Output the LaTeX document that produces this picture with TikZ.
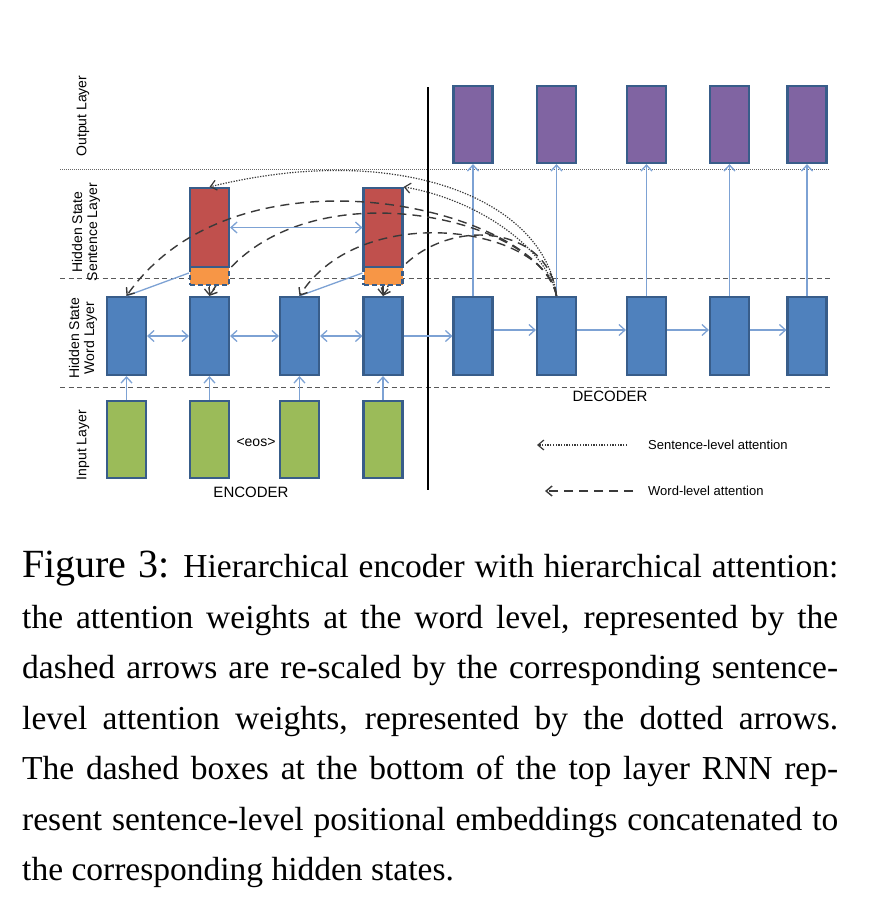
\documentclass[tikz,border=0pt]{standalone}
\usepackage{fontspec}
\setmainfont{Liberation Serif}
\newfontfamily\lsans{Liberation Sans}
\usetikzlibrary{arrows.meta}
\definecolor{bfill}{HTML}{4F81BD}
\definecolor{bdraw}{HTML}{385D8A}
\definecolor{rfill}{HTML}{C0504D}
\definecolor{pfill}{HTML}{8064A2}
\definecolor{gfill}{HTML}{9BBB59}
\definecolor{ofill}{HTML}{F79646}
\definecolor{lblue}{HTML}{7DA2D4}
\definecolor{att}{HTML}{3A3A3A}
\tikzset{
 cell/.style={rectangle, draw=bdraw, line width=2.2pt, minimum width=39pt, minimum height=78pt, inner sep=0pt},
 wordcell/.style={cell, fill=bfill},
 outcell/.style={cell, fill=pfill, minimum height=77pt},
 incell/.style={cell, fill=gfill, minimum height=77pt},
 sentcell/.style={cell, fill=rfill, minimum height=79pt},
 poscell/.style={cell, fill=ofill, dash pattern=on 5pt off 3pt, minimum height=18pt},
 barb/.style={-{Straight Barb[length=6pt,width=10pt]}},
 bbarb/.style={-{Straight Barb[length=6pt,width=11pt]}},
 flow/.style={draw=lblue, line width=1.3pt, bbarb},
 biflow/.style={draw=lblue, line width=1.3pt, {Straight Barb[length=6pt,width=11pt]}-{Straight Barb[length=6pt,width=11pt]}},
 link/.style={draw=lblue, line width=1.3pt},
 posarrow/.style={draw=att, line width=1.3pt, barb},
 wordatt/.style={draw=att, line width=1.4pt, dash pattern=on 9pt off 6pt, barb},
 sentatt/.style={draw=att, line width=1.2pt, dash pattern=on 1.3pt off 1.4pt, barb},
 sepdash/.style={draw=black!65, line width=1pt, dash pattern=on 5pt off 3.5pt},
 sepdot/.style={draw=black!60, line width=1pt, dash pattern=on 1pt off 1pt},
 lbl/.style={font=\lsans\fontsize{14}{15}\selectfont, inner sep=0pt},
 biglbl/.style={font=\lsans\fontsize{15}{16}\selectfont, inner sep=0pt},
 leglbl/.style={font=\lsans\fontsize{13}{14}\selectfont, inner sep=0pt, anchor=west},
 layerlbl/.style={lbl, rotate=90, align=center},
 capline/.style={font=\fontsize{33.5}{38}\selectfont, inner sep=0pt, anchor=base west},
}
\begin{document}
\begin{tikzpicture}[x=1pt,y=-1pt]
\useasboundingbox[fill=white] (0,0) rectangle (874,898);

% separators
\coordinate (s1a) at (60,169); \coordinate (s1b) at (830,169);
\coordinate (s2a) at (60,278); \coordinate (s2b) at (832,278);
\coordinate (s3a) at (60,387); \coordinate (s3b) at (832,387);
\coordinate (va) at (428,87); \coordinate (vb) at (428,490);
\draw[sepdot] (s1a) -- (s1b);
\draw[sepdash] (s2a) -- (s2b);
\draw[sepdash] (s3a) -- (s3b);
\draw[black, line width=1.3pt] (va) -- (vb);

% layer labels
\node[layerlbl] (lout) at (83,116) {Output Layer};
\node[layerlbl] (lsent) at (86,232) {Hidden State\\Sentence Layer};
\node[layerlbl] (lword) at (83,338) {Hidden State\\Word Layer};
\node[layerlbl] (lin) at (83,445) {Input Layer};

% encoder
\node[incell] (in1) at (126.5,439.5) {};
\node[incell] (in2) at (209.5,439.5) {};
\node[incell] (in3) at (299.5,439.5) {};
\node[incell] (in4) at (383,439.5) {};
\node[wordcell] (enc1) at (126.5,336) {};
\node[wordcell] (enc2) at (209.5,336) {};
\node[wordcell] (enc3) at (299.5,336) {};
\node[wordcell] (enc4) at (383,336) {};

% decoder
\node[wordcell] (dec1) at (473,336) {};
\node[wordcell] (dec2) at (556.5,336) {};
\node[wordcell] (dec3) at (646.5,336) {};
\node[wordcell] (dec4) at (729.5,336) {};
\node[wordcell] (dec5) at (807,336) {};
\node[outcell] (out1) at (473,124.5) {};
\node[outcell] (out2) at (556.5,124.5) {};
\node[outcell] (out3) at (646.5,124.5) {};
\node[outcell] (out4) at (729.5,124.5) {};
\node[outcell] (out5) at (807,124.5) {};

% input -> word
\foreach \i in {1,2,3,4} \draw[flow] (in\i) -- (enc\i);
\draw[biflow] (enc1) -- (enc2);
\draw[biflow] (enc2) -- (enc3);
\draw[biflow] (enc3) -- (enc4);
\draw[flow] (enc4) -- (dec1);
\draw[flow] ([yshift=6pt]dec1.east) -- ([yshift=6pt]dec2.west);
\draw[flow] ([yshift=6pt]dec2.east) -- ([yshift=6pt]dec3.west);
\draw[flow] ([yshift=6pt]dec3.east) -- ([yshift=6pt]dec4.west);
\draw[flow] ([yshift=6pt]dec4.east) -- ([yshift=6pt]dec5.west);
\foreach \i in {1,...,5} \draw[flow] (dec\i) -- (out\i);

% word-level attention to 4th word (under sentence box 2)
\draw[wordatt] (dec2.north) .. controls (548,215) and (420,215) .. (enc4.north);

% sentence box 2
\node[poscell] (pos2) at (383,276) {};
\node[sentcell] (sent2) at (383,227.5) {};
\draw[posarrow] (pos2) -- (enc4);
\draw[link] (enc3.north) -- ([yshift=3pt]pos2.west);

% word-level attention to 2nd word
\draw[wordatt] (dec2.north) .. controls (540,215) and (290,160) .. (enc2.north);

% sentence box 1
\node[poscell] (pos1) at (209.5,276) {};
\node[sentcell] (sent1) at (209.5,227.5) {};
\draw[posarrow] (pos1) -- (enc2);
\draw[link] (enc1.north) -- ([yshift=3pt]pos1.west);
\draw[biflow] (sent1) -- (sent2);

% word-level attention to 1st and 3rd word
\draw[wordatt] (dec2.north) .. controls (540,210) and (240,135) .. (enc1.north);
\draw[wordatt] (dec2.north) .. controls (545,225) and (360,200) .. (enc3.north);

% sentence-level attention
\draw[sentatt] (dec2.north) .. controls (545,200) and (400,140) .. (sent1.north);
\draw[sentatt] (dec2.north) .. controls (548,250) and (480,200) .. (sent2.north east);

% labels
\node[lbl] (eos) at (256,442) {<eos>};
\node[biglbl] (enclbl) at (251,492) {ENCODER};
\node[biglbl] (declbl) at (610,396) {DECODER};

% legend
\coordinate (lg1a) at (627,445); \coordinate (lg1b) at (537,445);
\coordinate (lg2a) at (633,491); \coordinate (lg2b) at (545,491);
\draw[sentatt] (lg1a) -- (lg1b);
\draw[wordatt] (lg2a) -- (lg2b);
\node[leglbl] (leg1) at (648,445) {Sentence-level attention};
\node[leglbl] (leg2) at (648,491) {Word-level attention};

% caption
\node[capline] (c1) at (22,577) {\makebox[816pt][s]{{\fontsize{40}{44}\selectfont Figure 3:} Hierarchical encoder with hierarchical attention:}};
\node[capline] (c2) at (22,628) {\makebox[816pt][s]{the attention weights at the word level, represented by the}};
\node[capline] (c3) at (22,678) {\makebox[816pt][s]{dashed arrows are re-scaled by the corresponding sentence-}};
\node[capline] (c4) at (22,729) {\makebox[816pt][s]{level attention weights, represented by the dotted arrows.}};
\node[capline] (c5) at (22,779) {\makebox[816pt][s]{The dashed boxes at the bottom of the top layer RNN rep-}};
\node[capline] (c6) at (22,830) {\makebox[816pt][s]{resent sentence-level positional embeddings concatenated to}};
\node[capline] (c7) at (22,880) {the corresponding hidden states.};
\end{tikzpicture}
\end{document}
